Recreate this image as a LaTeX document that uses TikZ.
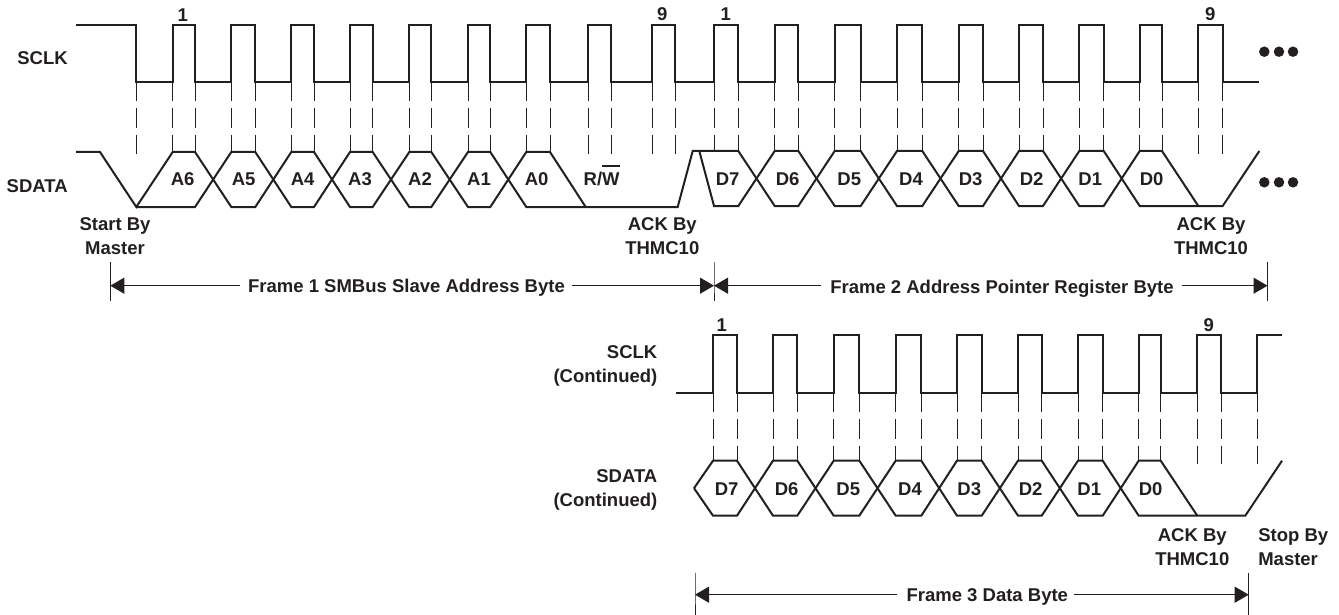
\documentclass[tikz,border=0pt]{standalone}
\usepackage{fontspec}
\setmainfont{Liberation Sans}
\usetikzlibrary{arrows.meta}
\definecolor{ink}{HTML}{231F20}
\newcommand{\barW}{\rlap{\smash{\raisebox{19pt}{\rule{17.5pt}{2pt}}}}W}
\tikzset{
  wave/.style={draw=ink,line width=2pt,line join=miter,line cap=butt},
  guide/.style={draw=ink,line width=1pt,dash pattern=on 19.5pt off 6.5pt on 20pt off 7pt},
  dimline/.style={draw=ink,line width=1pt},
  tickline/.style={draw=ink,line width=1pt},
  lefttip/.style={{Triangle[length=14pt,width=16pt,fill=ink]}-},
  righttip/.style={-{Triangle[length=14pt,width=16pt,fill=ink]}},
  lbl/.style={text=ink,inner sep=0pt,outer sep=0pt,align=center,font=\fontsize{18.5}{24.3}\selectfont\bfseries},
  lblr/.style={lbl,align=right,anchor=east},
  lbll/.style={lbl,align=left,anchor=west},
  framelbl/.style={lbl,anchor=base},
  dot/.style={fill=ink,draw=none,circle,minimum size=10.5pt,inner sep=0pt}
}
\begin{document}
\begin{tikzpicture}[x=1pt,y=-1pt]
\useasboundingbox (0,0) rectangle (1339,615);
% ---------- top SCLK
\draw[wave] (76,25) -- (136.3,25) -- (136.3,82)
  foreach \r/\f in {172.7/195,231.3/255.3,291.3/314,350/372.7,409.3/431.3,468/490.3,526.3/550,588.3/611.3,652/675.3,714/738.3,774.7/798.3,834.7/860.7,897/922.3,958.7/983,1019/1043,1079.3/1103.7,1139.7/1162,1198.3/1222.7}
  { -- (\r,82) -- (\r,25) -- (\f,25) -- (\f,82) } -- (1259.3,82);
% guides, top
\foreach \x in {172.7,195,231.3,255.3,291.3,314,350,372.7,409.3,431.3,468,490.3,526.3,550}
  \draw[guide] (\x,82) -- (\x,152);
\foreach \x in {136.3,588.3,611.3,652,675.3,1198.3,1222.7}
  \draw[guide] (\x,82) -- (\x,154);
\foreach \x in {714,738.3,774.7,798.3,834.7,860.7,897,922.3,958.7,983,1019,1043,1079.3,1103.7,1139.7,1162}
  \draw[guide] (\x,82) -- (\x,151);
% ---------- top SDATA
\draw[wave] (76,152) -- (100,152) -- (136.3,207) -- (172.7,152) -- (195,152) -- (231.3,207) -- (255.3,207) -- (291.3,152) -- (314,152) -- (350,207) -- (372.7,207) -- (409.3,152) -- (431.3,152) -- (468,207) -- (490.3,207) -- (526.3,152) -- (550,152) -- (585.7,207);
\draw[wave] (136.3,207) -- (195,207) -- (231.3,152) -- (255.3,152) -- (291.3,207) -- (314,207) -- (350,152) -- (372.7,152) -- (409.3,207) -- (431.3,207) -- (468,152) -- (490.3,152) -- (526.3,207) -- (677.7,207) -- (692.7,151) -- (738.3,151) -- (774.7,206) -- (798.3,206) -- (834.7,151) -- (860.7,151) -- (897,206) -- (922.3,206) -- (958.7,151) -- (983,151) -- (1019,206) -- (1043,206) -- (1079.3,151) -- (1103.7,151) -- (1139.7,206) -- (1222.7,206) -- (1259.3,151);
\draw[wave] (699.3,151) -- (714,206) -- (738.3,206) -- (774.7,151) -- (798.3,151) -- (834.7,206) -- (860.7,206) -- (897,151) -- (922.3,151) -- (958.7,206) -- (983,206) -- (1019,151) -- (1043,151) -- (1079.3,206) -- (1103.7,206) -- (1139.7,151) -- (1162,151) -- (1198.3,206);
% ---------- lower SCLK
\draw[wave] (675.7,392.7)
  foreach \r/\f in {713/737,773/797.3,833.7/859.3,895.7/921.3,957/981.7,1018/1041.7,1078/1102.7,1138.7/1160.7,1197.3/1221.3}
  { -- (\r,392.7) -- (\r,335.3) -- (\f,335.3) -- (\f,392.7) } -- (1257.3,392.7) -- (1257.3,335.3) -- (1282,335.3);
\foreach \x in {713,737,773,797.3,833.7,859.3,895.7,921.3,957,981.7,1018,1041.7,1078,1102.7,1138.7,1160.7}
  \draw[guide] (\x,392.7) -- (\x,460.7);
\foreach \x in {1197.3,1221.3,1257.3}
  \draw[guide] (\x,392.7) -- (\x,464.3);
% ---------- lower SDATA
\draw[wave] (694,488.2) -- (713,460.7) -- (737,460.7) -- (773,515.7) -- (797.3,515.7) -- (833.7,460.7) -- (859.3,460.7) -- (895.7,515.7) -- (921.3,515.7) -- (957,460.7) -- (981.7,460.7) -- (1018,515.7) -- (1041.7,515.7) -- (1078,460.7) -- (1102.7,460.7) -- (1138.7,515.7) -- (1245.3,515.7) -- (1282,460.7);
\draw[wave] (694,488.2) -- (713,515.7) -- (737,515.7) -- (773,460.7) -- (797.3,460.7) -- (833.7,515.7) -- (859.3,515.7) -- (895.7,460.7) -- (921.3,460.7) -- (957,515.7) -- (981.7,515.7) -- (1018,460.7) -- (1041.7,460.7) -- (1078,515.7) -- (1102.7,515.7) -- (1138.7,460.7) -- (1160.7,460.7) -- (1197.3,515.7);
% ---------- ellipses
\foreach \n/\x/\y in {a/1264.3/51.7,b/1279/51.7,c/1293/51.7,d/1264.3/182.3,e/1279/182.3,f/1293/182.3}
  \node[dot] (dot\n) at (\x,\y) {};
% ---------- pulse numbers
\node[lbl] (n1a) at (182.7,15) {1};
\node[lbl] (n9a) at (662.3,14) {9};
\node[lbl] (n1b) at (725.7,14) {1};
\node[lbl] (n9b) at (1210.3,14) {9};
\node[lbl] (n1c) at (721.7,325) {1};
\node[lbl] (n9c) at (1208.7,325) {9};
% ---------- signal names
\node[lblr] (sclk) at (67.7,57.7) {SCLK};
\node[lblr] (sdata) at (67.7,185.7) {SDATA};
\node[lblr] (sclk2) at (657.3,366) {SCLK\\(Continued)};
\node[lblr] (sdata2) at (657.3,490) {SDATA\\(Continued)};
% ---------- bit names
\foreach \n/\x in {A6/182.7,A5/243.7,A4/302.7,A3/360,A2/420,A1/479,A0/536.7}
  \node[lbl] (t\n) at (\x,179) {\n};
\node[lbl] (rw) at (601.7,179) {R/\barW};
\foreach \n/\x in {D7/727.7,D6/787.7,D5/849.3,D4/911,D3/970.7,D2/1031.7,D1/1090.3,D0/1151.7}
  \node[lbl] (u\n) at (\x,179) {\n};
\foreach \n/\x in {D7/726.7,D6/786.7,D5/848.3,D4/910,D3/969.3,D2/1030.7,D1/1089.3,D0/1150.7}
  \node[lbl] (v\n) at (\x,489) {\n};
% ---------- notes
\node[lbl] (start) at (115,236) {Start By\\Master};
\node[lbl] (ack1) at (662.3,236) {ACK By\\THMC10};
\node[lbl] (ack2) at (1211,236) {ACK By\\THMC10};
\node[lbl] (ack3) at (1192.3,547) {ACK By\\THMC10};
\node[lbll] (stop) at (1258.3,547) {Stop By\\Master};
% ---------- frame dimension lines
\coordinate (f1l) at (110.3,285.7);
\coordinate (f12) at (714,285.7);
\coordinate (f2r) at (1267.5,285.7);
\coordinate (f3l) at (695,594.7);
\coordinate (f3r) at (1248.7,594.7);
\draw[tickline] (110.3,262) -- (f1l) -- (110.3,301);
\draw[tickline] (714,262) -- (f12) -- (714,301);
\draw[tickline] (1267.5,262) -- (f2r) -- (1267.5,301);
\draw[tickline] (695,572.7) -- (f3l) -- (695,615);
\draw[tickline] (1248.7,572.7) -- (f3r) -- (1248.7,615);
\node[framelbl] (fr1) at (406.5,292.8) {Frame 1 SMBus Slave Address Byte};
\node[framelbl] (fr2) at (1002,293.2) {Frame 2 Address Pointer Register Byte};
\node[framelbl] (fr3) at (987.3,601.7) {Frame 3 Data Byte};
\draw[dimline,lefttip] (f1l) -- ([xshift=-8pt]fr1.west |- f1l);
\draw[dimline,righttip] ([xshift=7pt]fr1.east |- f12) -- (f12);
\draw[dimline,lefttip] (f12) -- ([xshift=-9pt]fr2.west |- f12);
\draw[dimline,righttip] ([xshift=8pt]fr2.east |- f2r) -- (f2r);
\draw[dimline,lefttip] (f3l) -- ([xshift=-10pt]fr3.west |- f3l);
\draw[dimline,righttip] ([xshift=6pt]fr3.east |- f3r) -- (f3r);
\end{tikzpicture}
\end{document}
